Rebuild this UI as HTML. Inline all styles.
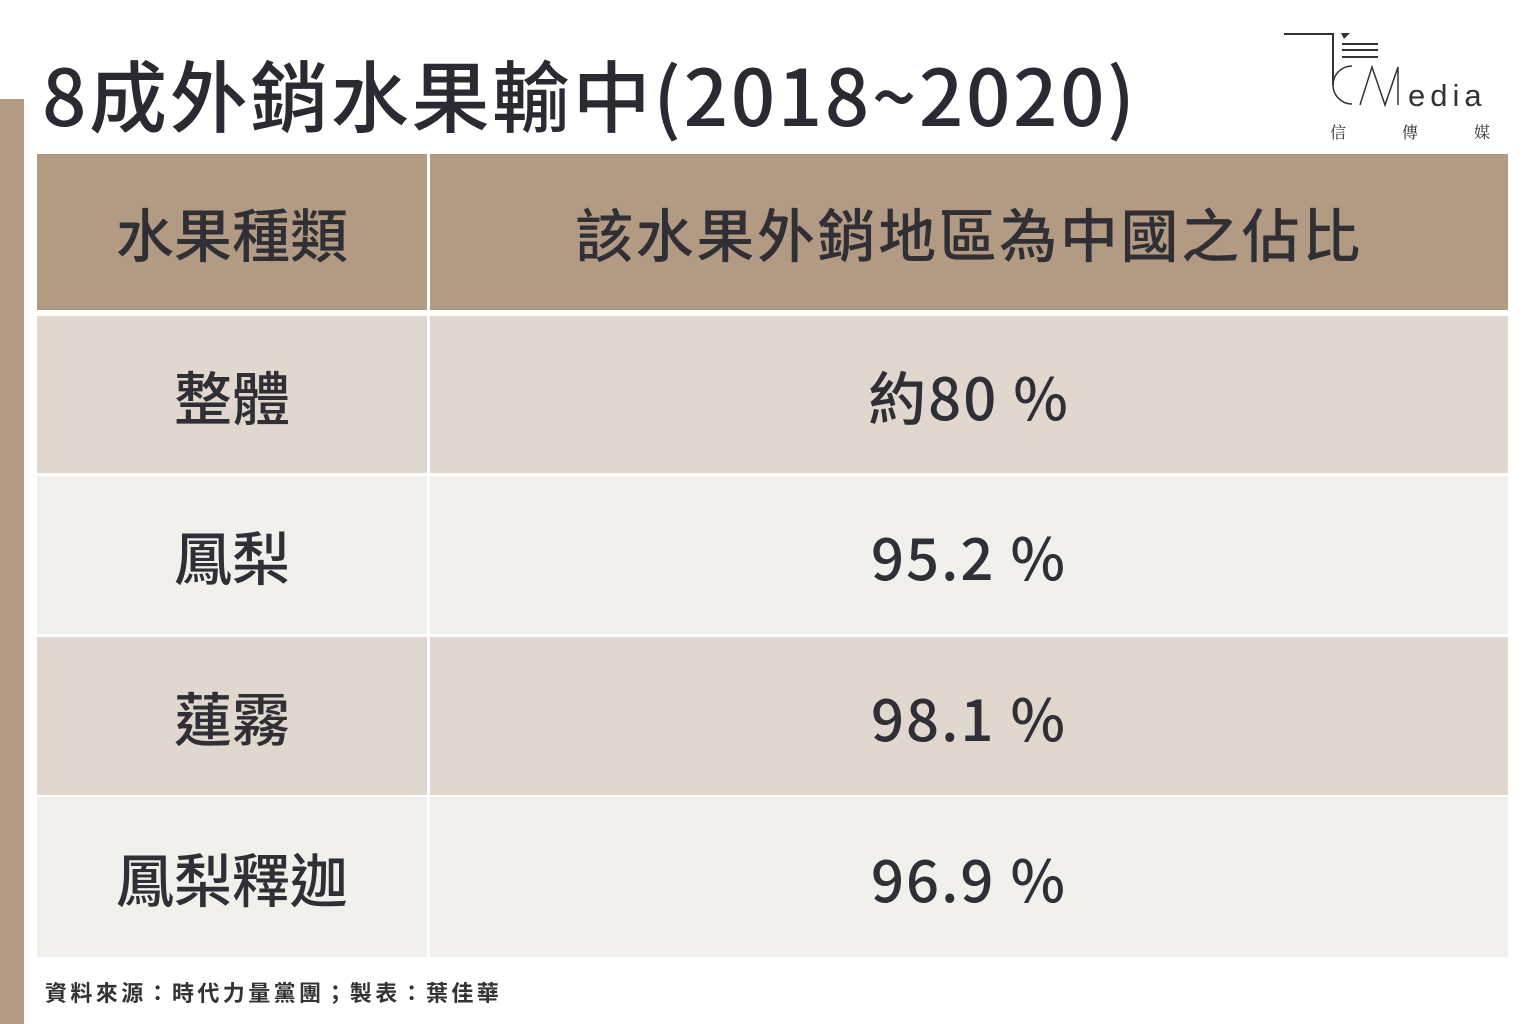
<!DOCTYPE html>
<html><head><meta charset="utf-8"><style>
body{margin:0;width:1536px;height:1024px;background:#fff;position:relative;overflow:hidden;font-family:"Noto Sans CJK TC","Liberation Sans",sans-serif;color:#2f2f35}
.a{position:absolute}
.bar{left:0;top:99px;width:24px;height:925px;background:#b29a83}
.title{left:42px;top:43px;font-size:78px;line-height:100px;font-weight:500;letter-spacing:2.6px;color:#2a2a33;white-space:nowrap}
.cell{position:absolute;display:flex;align-items:center;justify-content:center;font-size:58px;font-weight:500;line-height:1}
.num{letter-spacing:2px}
.src{left:45px;top:976px;font-size:22px;font-weight:700;color:#333;letter-spacing:3.4px;white-space:nowrap}
</style></head><body>
<div class="a bar"></div>
<div class="a title">8成外銷水果輸中(2018~2020)</div>
<svg class="a" style="left:1280px;top:30px" width="230" height="115">
<path d="M4 4H53V55" fill="none" stroke="#333" stroke-width="2"/>
<path d="M61 3l9 0-6 6z" fill="#333"/>
<path d="M62 14h36M62 20h36M62 27h36" stroke="#333" stroke-width="2"/>
<path d="M72 36a17 17 0 1 0 0 38" fill="none" stroke="#333" stroke-width="1.5"/>
<path d="M80 75L92 37 105 75 118 37V75" fill="none" stroke="#333" stroke-width="1.5"/>
<text x="128" y="76" font-size="31" font-family="Liberation Sans" fill="#333" letter-spacing="5">edia</text>
<text x="50" y="108" font-size="16" fill="#333" font-family="Noto Serif CJK SC,serif">信</text>
<text x="122" y="108" font-size="16" fill="#333" font-family="Noto Serif CJK SC,serif">傳</text>
<text x="194" y="108" font-size="16" fill="#333" font-family="Noto Serif CJK SC,serif">媒</text>
</svg>
<div class="cell" style="left:37px;top:154px;width:390px;height:156px;background:#b29a83">水果種類</div>
<div class="cell" style="left:430px;top:154px;width:1078px;height:156px;background:#b29a83;letter-spacing:2.6px">該水果外銷地區為中國之佔比</div>
<div class="cell" style="left:37px;top:316px;width:390px;height:157px;background:#e0d7cf">整體</div>
<div class="cell num" style="left:430px;top:316px;width:1078px;height:157px;background:#e0d7cf">約80 %</div>
<div class="cell" style="left:37px;top:476px;width:390px;height:158px;background:#f2f0ec">鳳梨</div>
<div class="cell num" style="left:430px;top:476px;width:1078px;height:158px;background:#f2f0ec">95.2 %</div>
<div class="cell" style="left:37px;top:637px;width:390px;height:158px;background:#e0d7cf">蓮霧</div>
<div class="cell num" style="left:430px;top:637px;width:1078px;height:158px;background:#e0d7cf">98.1 %</div>
<div class="cell" style="left:37px;top:797px;width:390px;height:160px;background:#f2f0ec">鳳梨釋迦</div>
<div class="cell num" style="left:430px;top:797px;width:1078px;height:160px;background:#f2f0ec">96.9 %</div>
<div class="a src">資料來源：時代力量黨團；製表：葉佳華</div>
</body></html>
